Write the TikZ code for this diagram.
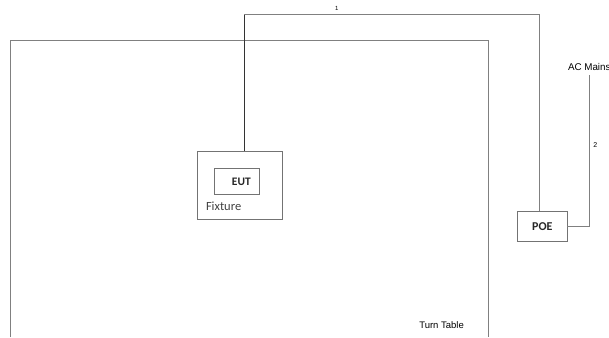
\documentclass[tikz,border=0pt]{standalone}
\usepackage{fontspec}
\setmainfont{Liberation Sans}
\newfontfamily\calib{Carlito}
\begin{document}
\begin{tikzpicture}[x=1pt,y=-1pt,
  box/.style={draw=black!55,line width=0.9pt,inner sep=0pt,minimum width=#1},
  wire/.style={draw=black!50,line width=0.9pt},
  small/.style={font=\fontsize{6}{7}\selectfont,inner sep=0pt},
  lab/.style={font=\fontsize{9.5}{11}\selectfont,inner sep=0pt}]
\useasboundingbox (0,0) rectangle (609,337);
% turn table
\draw[draw=black!50,line width=0.9pt] (10.9,337) -- (10.9,40.7) -- (488.5,40.7) -- (488.5,337);
\node[lab] (tt) at (441.6,325) {Turn Table};
% fixture & EUT
\node[box=85.7pt,minimum height=68pt] (fixture) at (239.8,185) {};
\node[box=45pt,minimum height=26.4pt,font=\calib\bfseries\fontsize{11.5}{13}\selectfont,text=black!85] (eut) at (236.9,181.5) {\hspace{9pt}EUT};
\node[anchor=west,inner sep=0pt,font=\calib\fontsize{12.5}{14}\selectfont,text=black!75] (fixlab) at (205.8,206.7) {Fixture};
% POE
\node[box=49.3pt,minimum height=30pt,font=\calib\bfseries\fontsize{12}{14}\selectfont,text=black!85] (poe) at (542.3,226.3) {POE};
% connector 1
\coordinate (b1) at (244.3,14.7);
\coordinate (b2) at (539.8,14.7);
\draw[draw=black!80,line width=0.8pt] (fixture.north -| b1) -- (b1);
\draw[wire] (b1) -- (b2) -- (poe.north -| b2);
\node[small] (n1) at (336.7,8.7) {1};
% connector 2
\coordinate (b3) at (589.1,74.7);
\draw[wire] (poe.east) -- (poe.east -| b3) -- (b3);
\node[lab,font=\fontsize{9.8}{11}\selectfont,anchor=west] (ac) at (567.8,66.7) {AC Mains};
\node[small,font=\fontsize{7}{8}\selectfont] (n2) at (595.3,145.3) {2};
\end{tikzpicture}
\end{document}
